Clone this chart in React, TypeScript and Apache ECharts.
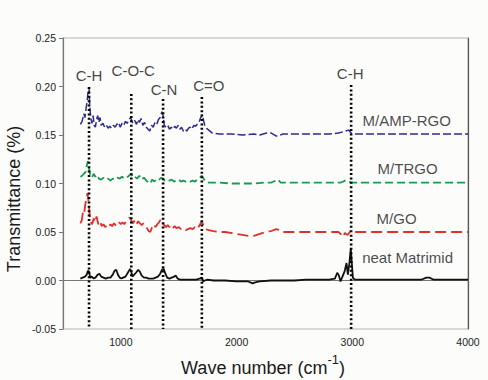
import { useEffect, useRef } from "react";
import * as echarts from "echarts";

// FTIR spectra: [wave number (cm^-1), transmittance]
const neatMatrimid: [number, number][] = [
  [650, 0.002], [670, 0.003], [690, 0.004], [705, 0.006], [715, 0.010], [725, 0.009], [735, 0.003],
  [750, 0.004], [765, 0.002], [780, 0.003], [800, 0.006], [815, 0.007], [830, 0.004], [850, 0.003],
  [870, 0.002], [890, 0.003], [910, 0.003], [930, 0.006], [945, 0.010], [960, 0.011], [975, 0.006],
  [990, 0.003], [1005, 0.002], [1020, 0.003], [1040, 0.004], [1060, 0.008], [1080, 0.012], [1090, 0.009],
  [1100, 0.004], [1115, 0.006], [1130, 0.008], [1150, 0.011], [1165, 0.009], [1180, 0.005], [1200, 0.003],
  [1220, 0.003], [1240, 0.002], [1260, 0.002], [1280, 0.002], [1300, 0.003], [1320, 0.004], [1340, 0.007],
  [1355, 0.011], [1370, 0.012], [1385, 0.007], [1400, 0.003], [1420, 0.002], [1440, 0.003], [1460, 0.004],
  [1475, 0.005], [1490, 0.002], [1510, 0.001], [1550, 0.001], [1600, 0.001], [1650, 0.001], [1680, 0.002],
  [1700, 0.003], [1712, -0.001], [1725, 0.0], [1750, 0.001], [1800, 0.0], [1900, 0.0], [2000, -0.001],
  [2100, -0.001], [2140, -0.003], [2160, -0.002], [2200, -0.001], [2300, 0.0], [2400, 0.0], [2500, 0.0],
  [2600, 0.001], [2700, 0.001], [2800, 0.001], [2850, 0.002], [2870, 0.008], [2885, 0.005], [2898, -0.001],
  [2915, 0.004], [2935, 0.010], [2950, 0.018], [2962, 0.006], [2975, 0.018], [2987, 0.033], [2996, 0.018],
  [3005, 0.003], [3020, 0.001], [3200, 0.001], [3400, 0.001], [3600, 0.001], [3640, 0.003], [3665, 0.003],
  [3700, 0.001], [3800, 0.001], [4000, 0.001],
];

const mGO: [number, number][] = [
  [650, 0.059], [662, 0.062], [672, 0.070], [682, 0.068], [692, 0.078], [702, 0.084], [712, 0.090],
  [722, 0.080], [732, 0.066], [742, 0.060], [752, 0.058], [765, 0.064], [778, 0.060], [790, 0.066],
  [805, 0.058], [820, 0.061], [835, 0.056], [850, 0.058], [865, 0.055], [880, 0.057], [895, 0.055],
  [910, 0.058], [925, 0.056], [940, 0.059], [955, 0.057], [970, 0.056], [985, 0.060], [1000, 0.058],
  [1015, 0.060], [1030, 0.058], [1045, 0.061], [1060, 0.063], [1075, 0.065], [1090, 0.062], [1105, 0.059],
  [1120, 0.062], [1135, 0.058], [1150, 0.061], [1165, 0.059], [1180, 0.057], [1195, 0.059], [1210, 0.056],
  [1225, 0.054], [1240, 0.051], [1255, 0.050], [1270, 0.055], [1285, 0.058], [1300, 0.055], [1315, 0.058],
  [1330, 0.060], [1345, 0.063], [1360, 0.059], [1375, 0.057], [1390, 0.055], [1405, 0.057], [1420, 0.055],
  [1435, 0.057], [1450, 0.054], [1465, 0.056], [1480, 0.054], [1500, 0.055], [1520, 0.053], [1540, 0.054],
  [1560, 0.052], [1580, 0.053], [1600, 0.054], [1620, 0.053], [1640, 0.055], [1660, 0.053], [1680, 0.057],
  [1700, 0.061], [1715, 0.056], [1730, 0.053], [1760, 0.052], [1800, 0.051], [1850, 0.050], [1900, 0.050],
  [1950, 0.049], [2000, 0.048], [2050, 0.047], [2100, 0.046], [2150, 0.046], [2200, 0.048], [2250, 0.050],
  [2300, 0.051], [2340, 0.053], [2370, 0.052], [2390, 0.050], [2450, 0.050], [2600, 0.050], [2800, 0.050],
  [2880, 0.050], [2900, 0.048], [2920, 0.045], [2935, 0.049], [2960, 0.047], [2990, 0.052], [3020, 0.050],
  [3500, 0.050], [4000, 0.050],
];

const mTRGO: [number, number][] = [
  [650, 0.107], [665, 0.108], [680, 0.110], [695, 0.112], [705, 0.118], [715, 0.123], [725, 0.116],
  [735, 0.109], [750, 0.106], [765, 0.110], [780, 0.107], [795, 0.109], [810, 0.105], [830, 0.104],
  [850, 0.106], [870, 0.104], [890, 0.105], [910, 0.103], [930, 0.105], [950, 0.104], [970, 0.106],
  [990, 0.105], [1010, 0.107], [1030, 0.105], [1050, 0.106], [1070, 0.108], [1090, 0.110], [1105, 0.106],
  [1120, 0.107], [1140, 0.105], [1160, 0.108], [1180, 0.104], [1200, 0.106], [1220, 0.103], [1240, 0.101],
  [1255, 0.100], [1270, 0.104], [1290, 0.102], [1310, 0.105], [1330, 0.104], [1350, 0.106], [1365, 0.105],
  [1380, 0.103], [1400, 0.104], [1420, 0.103], [1440, 0.104], [1460, 0.102], [1480, 0.103], [1500, 0.104],
  [1520, 0.102], [1540, 0.103], [1560, 0.102], [1580, 0.103], [1600, 0.102], [1620, 0.103], [1640, 0.102],
  [1660, 0.104], [1680, 0.106], [1700, 0.108], [1715, 0.105], [1730, 0.102], [1760, 0.101], [1850, 0.101],
  [1950, 0.100], [2050, 0.100], [2150, 0.100], [2250, 0.101], [2300, 0.101], [2340, 0.103], [2360, 0.104],
  [2380, 0.101], [2500, 0.101], [2700, 0.101], [2900, 0.101], [2940, 0.103], [2960, 0.102], [2990, 0.101],
  [3500, 0.101], [4000, 0.101],
];

const mAMPRGO: [number, number][] = [
  [650, 0.161], [665, 0.164], [680, 0.172], [690, 0.168], [700, 0.178], [710, 0.186], [718, 0.197],
  [725, 0.199], [732, 0.178], [740, 0.168], [750, 0.162], [760, 0.170], [770, 0.160], [780, 0.158],
  [790, 0.166], [800, 0.170], [810, 0.163], [820, 0.168], [830, 0.160], [845, 0.162], [860, 0.158],
  [875, 0.160], [890, 0.157], [905, 0.159], [920, 0.157], [935, 0.160], [950, 0.158], [965, 0.161],
  [980, 0.163], [995, 0.158], [1010, 0.162], [1025, 0.160], [1040, 0.164], [1055, 0.162], [1070, 0.166],
  [1085, 0.168], [1095, 0.164], [1105, 0.162], [1120, 0.165], [1135, 0.161], [1150, 0.166], [1160, 0.163],
  [1175, 0.167], [1190, 0.160], [1205, 0.163], [1220, 0.158], [1235, 0.156], [1250, 0.154], [1265, 0.160],
  [1280, 0.158], [1295, 0.163], [1310, 0.161], [1325, 0.166], [1340, 0.168], [1355, 0.174], [1365, 0.170],
  [1375, 0.160], [1390, 0.158], [1405, 0.160], [1420, 0.156], [1435, 0.158], [1450, 0.156], [1465, 0.159],
  [1480, 0.157], [1495, 0.160], [1510, 0.156], [1525, 0.158], [1540, 0.154], [1555, 0.156], [1570, 0.154],
  [1585, 0.157], [1600, 0.158], [1615, 0.156], [1630, 0.160], [1645, 0.159], [1660, 0.161], [1675, 0.163],
  [1690, 0.168], [1705, 0.171], [1715, 0.165], [1725, 0.160], [1740, 0.157], [1760, 0.155], [1790, 0.152],
  [1850, 0.151], [1950, 0.151], [2050, 0.150], [2150, 0.151], [2200, 0.150], [2260, 0.152], [2300, 0.152],
  [2340, 0.149], [2360, 0.149], [2400, 0.151], [2500, 0.151], [2600, 0.151], [2700, 0.151], [2800, 0.151],
  [2880, 0.152], [2940, 0.154], [2970, 0.155], [2990, 0.152], [3030, 0.151], [3500, 0.151], [4000, 0.151],
];

// Characteristic absorption bands marked with dotted guides
const bandPositions = [725, 1090, 1365, 1700, 2990];
const bandTops = [0.1995, 0.1923, 0.1871, 0.1892, 0.2015];
const bandNames = ["C-H", "C-O-C", "C-N", "C=O", "C-H"];

const seriesNames = ["neat Matrimid", "M/GO", "M/TRGO", "M/AMP-RGO"];
const seriesData = [neatMatrimid, mGO, mTRGO, mAMPRGO];

const yMin = -0.05;
const yMax = 0.25;
const yStep = 0.05;
const xMin = 500;
const xMax = 4000;

// Layout / styling (kept apart from the data)
const FONT = "'Liberation Sans', Arial, Helvetica, sans-serif";
const seriesStyles = [
  { color: "#111111", width: 1.8, type: "solid" as any },
  { color: "#e0302c", width: 1.8, type: [11, 5] as any },
  { color: "#1a9a50", width: 1.8, type: [8, 4] as any },
  { color: "#2e2b8c", width: 1.5, type: [8, 3] as any },
];
const nameAnchors: [number, number][] = [
  [3478, 0.024],
  [3383, 0.0644],
  [3478, 0.115],
  [3470, 0.1645],
];
const bandLabelOffsets: [number, number][] = [
  [0, -3.5],
  [2, -15.5],
  [1, -2.5],
  [7, -3.5],
  [-1, -4.5],
];

export default function App() {
  const ref = useRef<HTMLDivElement>(null);

  useEffect(() => {
    if (!ref.current) return;
    const chart = echarts.init(ref.current, undefined, { renderer: "svg" });

    const curveSeries = seriesData.map((d, i) => ({
      name: seriesNames[i],
      type: "line",
      data: d,
      symbol: "none",
      showSymbol: false,
      smooth: false,
      lineStyle: { ...seriesStyles[i] },
      z: 3,
    }));

    const bandSeries = bandPositions.map((x, i) => ({
      name: "band-" + i,
      type: "line",
      data: [
        [x, bandTops[i]],
        [x, yMin],
      ],
      symbol: "none",
      lineStyle: { color: "#000", width: 2.6, type: [2, 2.4] as any, cap: "butt" },
      z: 4,
    }));

    const bandLabelSeries = {
      name: "band-labels",
      type: "scatter",
      symbolSize: 0,
      data: bandPositions.map((x, i) => ({
        name: bandNames[i],
        value: [x, bandTops[i]],
        label: { offset: bandLabelOffsets[i] },
      })),
      label: {
        show: true,
        position: "top",
        distance: 0,
        formatter: "{b}",
        fontSize: 15,
        fontFamily: FONT,
        color: "#111",
      },
      z: 5,
    };

    const nameLabelSeries = {
      name: "series-labels",
      type: "scatter",
      symbolSize: 0,
      data: nameAnchors.map((p, i) => ({ name: seriesNames[i], value: p })),
      label: {
        show: true,
        position: "inside",
        formatter: "{b}",
        fontSize: 15,
        fontFamily: FONT,
        color: "#1a1a1a",
      },
      z: 5,
    };

    chart.setOption({
      animation: false,
      backgroundColor: "#fcfcfa",
      grid: {
        left: 63,
        right: 20,
        top: 38,
        bottom: 51,
        show: true,
        borderColor: "#b4b4b4",
        borderWidth: 1,
        backgroundColor: "transparent",
      },
      xAxis: {
        type: "value",
        min: xMin,
        max: xMax,
        interval: 500,
        axisLine: { show: true, lineStyle: { color: "#777", width: 1.2 } },
        axisTick: { show: false },
        splitLine: { show: false },
        axisLabel: {
          margin: 7,
          fontSize: 10.5,
          fontFamily: FONT,
          color: "#222",
          formatter: (v: number) => (v % 1000 === 0 ? String(v) : ""),
        },
      },
      yAxis: [
        {
          type: "value",
          min: yMin,
          max: yMax,
          interval: yStep,
          axisLine: { show: true, lineStyle: { color: "#777", width: 1.2 } },
          axisTick: { show: true, inside: false, length: 4, lineStyle: { color: "#777" } },
          splitLine: { show: false },
          axisLabel: {
            margin: 7,
            fontSize: 10.5,
            fontFamily: FONT,
            color: "#222",
            formatter: (v: number) => (Math.abs(v) < 1e-9 ? 0 : v).toFixed(2),
          },
        },
        {
          type: "value",
          position: "right",
          min: yMin,
          max: yMax,
          interval: yStep,
          axisLine: { show: true, lineStyle: { color: "#555", width: 1.2 } },
          axisTick: { show: false },
          axisLabel: { show: false },
          splitLine: { show: false },
        },
      ],
      graphic: [
        {
          type: "text",
          x: 14,
          y: 199,
          rotation: Math.PI / 2,
          style: {
            text: "Transmittance (%)",
            fontSize: 18,
            fontFamily: FONT,
            fill: "#1a1a1a",
            align: "center",
            verticalAlign: "middle",
          },
        },
        {
          type: "text",
          x: 263,
          y: 353,
          style: {
            text: "{a|Wave number (cm}{s|-1}{a|)}",
            fontFamily: FONT,
            fill: "#1a1a1a",
            align: "center",
            verticalAlign: "top",
            rich: {
              a: { fontSize: 18, fontFamily: FONT, lineHeight: 30, fill: "#1a1a1a" },
              s: { fontSize: 13, fontFamily: FONT, verticalAlign: "top", fill: "#1a1a1a" },
            },
          },
        },
      ],
      series: [...curveSeries, ...bandSeries, bandLabelSeries, nameLabelSeries],
    });

    return () => chart.dispose();
  }, []);

  return (
    <div
      ref={ref}
      style={{ position: "fixed", left: 0, top: 0, width: 488, height: 380 }}
    />
  );
}
